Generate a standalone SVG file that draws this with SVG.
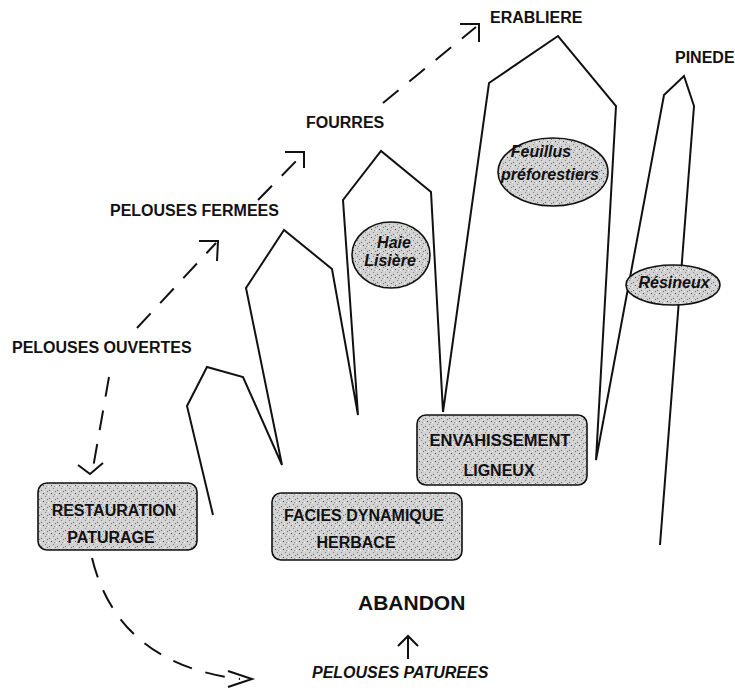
<svg xmlns="http://www.w3.org/2000/svg" width="735" height="690" viewBox="0 0 735 690">
<style>
text{font-family:"Liberation Sans",Arial,sans-serif;font-weight:bold;font-size:16px;fill:#111}
.c{text-anchor:middle}
.i{font-style:italic}
.box{fill:url(#stip);stroke:#111;stroke-width:1.6}
.outline{fill:none;stroke:#111;stroke-width:2;stroke-linejoin:miter}
.dash{fill:none;stroke:#111;stroke-width:2;stroke-dasharray:20 14}
.head{fill:none;stroke:#111;stroke-width:2}
</style>
<defs>
<pattern id="stip" width="8" height="8" patternUnits="userSpaceOnUse">
<rect width="8" height="8" fill="#d2d2d2"/>
<rect x="1" y="2" width="1" height="1" fill="#6a6a6a"/>
<rect x="5" y="0" width="1" height="1" fill="#8a8a8a"/>
<rect x="3" y="5" width="1" height="1" fill="#555"/>
<rect x="6" y="6" width="1" height="1" fill="#999"/>
<rect x="0" y="6" width="1" height="1" fill="#fff"/>
<rect x="4" y="3" width="1" height="1" fill="#f4f4f4"/>
<rect x="7" y="3" width="1" height="1" fill="#777"/>
</pattern>
</defs>
<rect width="735" height="690" fill="#fff"/>

<g id="peaks">
<polyline class="outline" points="213,515 187,406 207,367 243,377 282,465 246,288 284,230 332,269 358,415 343,200 381,151 431,192 443,412 489,83 558,36 616,106 596,460 664,95 684,76 694,106 660,545"/>
</g>

<g id="connectors">
<path class="dash" d="M109,377 L93,468"/>
<polyline class="head" points="78,465 90,474 103,463"/>
<path class="dash" d="M137,328 L216,243"/>
<polyline class="head" points="199,241 218,241 217,261"/>
<path class="dash" d="M258,200 L302,155"/>
<polyline class="head" points="285,152 304,152 304,168"/>
<path class="dash" d="M383,103 L476,27"/>
<polyline class="head" points="460,24 479,24 479,42"/>
<path class="dash" d="M92,558 Q118,664 240,679"/>
<polyline class="head" points="228,671 252,679 228,687"/>
<line class="head" x1="408" y1="659" x2="408" y2="637"/>
<polyline class="head" points="398,646 408,636 418,646"/>
</g>

<g id="restauration">
<rect class="box" x="38" y="483" width="159" height="67" rx="9"/>
<text class="c" x="114" y="516">RESTAURATION</text>
<text class="c" x="111" y="543">PATURAGE</text>
</g>
<g id="facies">
<rect class="box" x="272" y="493" width="190" height="67" rx="9"/>
<text class="c" x="364" y="521">FACIES DYNAMIQUE</text>
<text class="c" x="356" y="548">HERBACE</text>
</g>
<g id="envahissement">
<rect class="box" x="417" y="415" width="170" height="70" rx="9"/>
<text class="c" x="500" y="446" style="font-size:16.5px">ENVAHISSEMENT</text>
<text class="c" x="499" y="476">LIGNEUX</text>
</g>

<g id="haie">
<ellipse class="box" cx="391" cy="255" rx="39" ry="33"/>
<text class="c i" x="394" y="248">Haie</text>
<text class="c i" x="390" y="266">Lisière</text>
</g>
<g id="feuillus">
<ellipse class="box" cx="553" cy="172" rx="55" ry="34"/>
<text class="c i" x="541" y="157">Feuillus</text>
<text class="c i" x="550" y="180">préforestiers</text>
</g>
<g id="resineux">
<ellipse class="box" cx="673" cy="285" rx="47" ry="20"/>
<text class="c i" x="674" y="288">Résineux</text>
</g>

<g id="labels">
<text id="erabliere" x="490" y="23">ERABLIERE</text>
<text id="pinede" x="675" y="63">PINEDE</text>
<text id="fourres" x="306" y="128">FOURRES</text>
<text id="pelouses-fermees" x="110" y="216">PELOUSES FERMEES</text>
<text id="pelouses-ouvertes" x="12" y="353">PELOUSES OUVERTES</text>
<text id="abandon" x="358" y="610" style="font-size:21px">ABANDON</text>
<text id="pelouses-paturees" class="i" x="312" y="678">PELOUSES PATUREES</text>
</g>
</svg>
